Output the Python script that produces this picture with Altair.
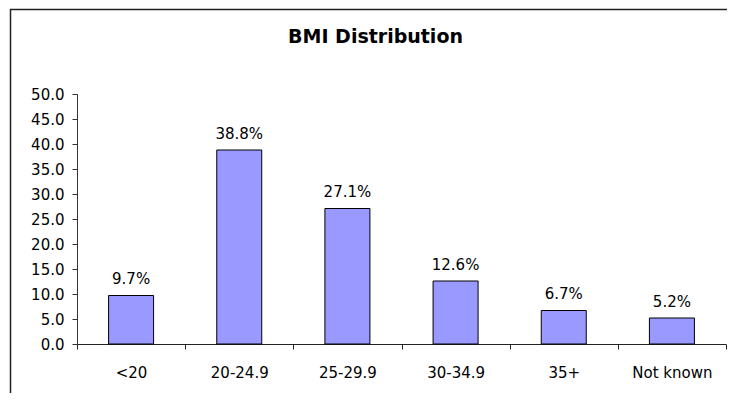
import altair as alt
import pandas as pd

categories = ["<20", "20-24.9", "25-29.9", "30-34.9", "35+", "Not known"]
values = [9.7, 38.8, 27.1, 12.6, 6.7, 5.2]
y_ticks = [0, 5, 10, 15, 20, 25, 30, 35, 40, 45, 50]
title_text = "BMI Distribution"

df = pd.DataFrame({"cat": categories, "val": values})
df["lab"] = [f"{v:.1f}%" for v in values]

FONT = "DejaVu Sans"
W, H = 649, 250

base = alt.Chart(df).encode(
    x=alt.X("cat:N", sort=categories, title=None,
            scale=alt.Scale(paddingInner=0, paddingOuter=0),
            axis=alt.Axis(labelAngle=0, tickBand="extent", tickSize=5, grid=False,
                          labelPadding=16, labelFont=FONT, labelFontSize=15,
                          labelColor="black", domainColor="#222", tickColor="#222",
                          labelBaseline="top")),
    y=alt.Y("val:Q", title=None,
            scale=alt.Scale(domain=[0, 50], nice=False),
            axis=alt.Axis(values=y_ticks, format=".1f", grid=False, tickSize=5,
                          labelPadding=8, labelFont=FONT, labelFontSize=15,
                          labelColor="black", domainColor="#333", tickColor="#333")),
)

bars = base.mark_bar(width=45, color="#9999FF", stroke="black", strokeWidth=1)
labels = base.mark_text(baseline="alphabetic", dy=-11.5, font=FONT, fontSize=15,
                        color="black").encode(text="lab:N")

one = pd.DataFrame({"t": [title_text]})
title = alt.Chart(one).mark_text(font=FONT, fontSize=19, fontWeight="bold",
                                 color="black", baseline="alphabetic", align="center").encode(
    text="t:N", x=alt.value(298.5), y=alt.value(-51))

left_line = alt.Chart(one).mark_rule(color="#222", strokeWidth=1.5).encode(
    x=alt.value(-66.5), y=alt.value(-85), y2=alt.value(320))
top_line = alt.Chart(one).mark_rule(color="#222", strokeWidth=1.5).encode(
    x=alt.value(-67), x2=alt.value(660), y=alt.value(-84.5))

chart = alt.layer(bars, labels, title, left_line, top_line).properties(
    width=W, height=H,
    autosize=alt.AutoSizeParams(type="none"),
    padding={"left": 69, "top": 86, "right": 1, "bottom": 49},
).configure_view(stroke="white", strokeWidth=2)

chart.save("out.html", embed_options={"renderer": "svg", "actions": False})
